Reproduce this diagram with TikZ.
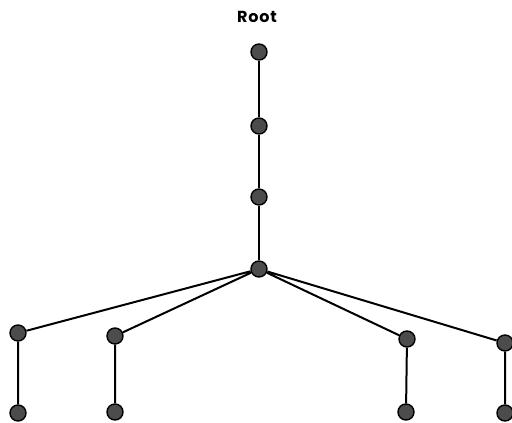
\documentclass[tikz,border=0pt]{standalone}
\usepackage{fontspec}
\setmainfont{Poppins}
\begin{document}
\begin{tikzpicture}[x=1pt,y=-1pt,
  vert/.style={circle,draw=black,fill=black!70,line width=1.4pt,minimum size=16pt,inner sep=0pt},
  edge/.style={line width=2pt}]
\useasboundingbox (0,0) rectangle (512,423);
\node[font=\fontsize{16}{18}\selectfont\bfseries] (lbl) at (257,17) {\addfontfeature{LetterSpace=5}Root};
\node[vert] (r) at (259,52) {};
\node[vert] (a) at (259,126) {};
\node[vert] (b) at (259,197) {};
\node[vert] (h) at (259,269) {};
\node[vert] (c1) at (18,333) {};
\node[vert] (c2) at (115,336) {};
\node[vert] (c3) at (407,339) {};
\node[vert] (c4) at (505,343) {};
\node[vert] (l1) at (18,413) {};
\node[vert] (l2) at (115,412) {};
\node[vert] (l3) at (406,412) {};
\node[vert] (l4) at (505,413) {};
\draw[edge] (r) -- (a) -- (b) -- (h);
\draw[edge] (h) -- (c1) (h) -- (c2) (h) -- (c3) (h) -- (c4);
\draw[edge] (c1) -- (l1) (c2) -- (l2) (c3) -- (l3) (c4) -- (l4);
\end{tikzpicture}
\end{document}
